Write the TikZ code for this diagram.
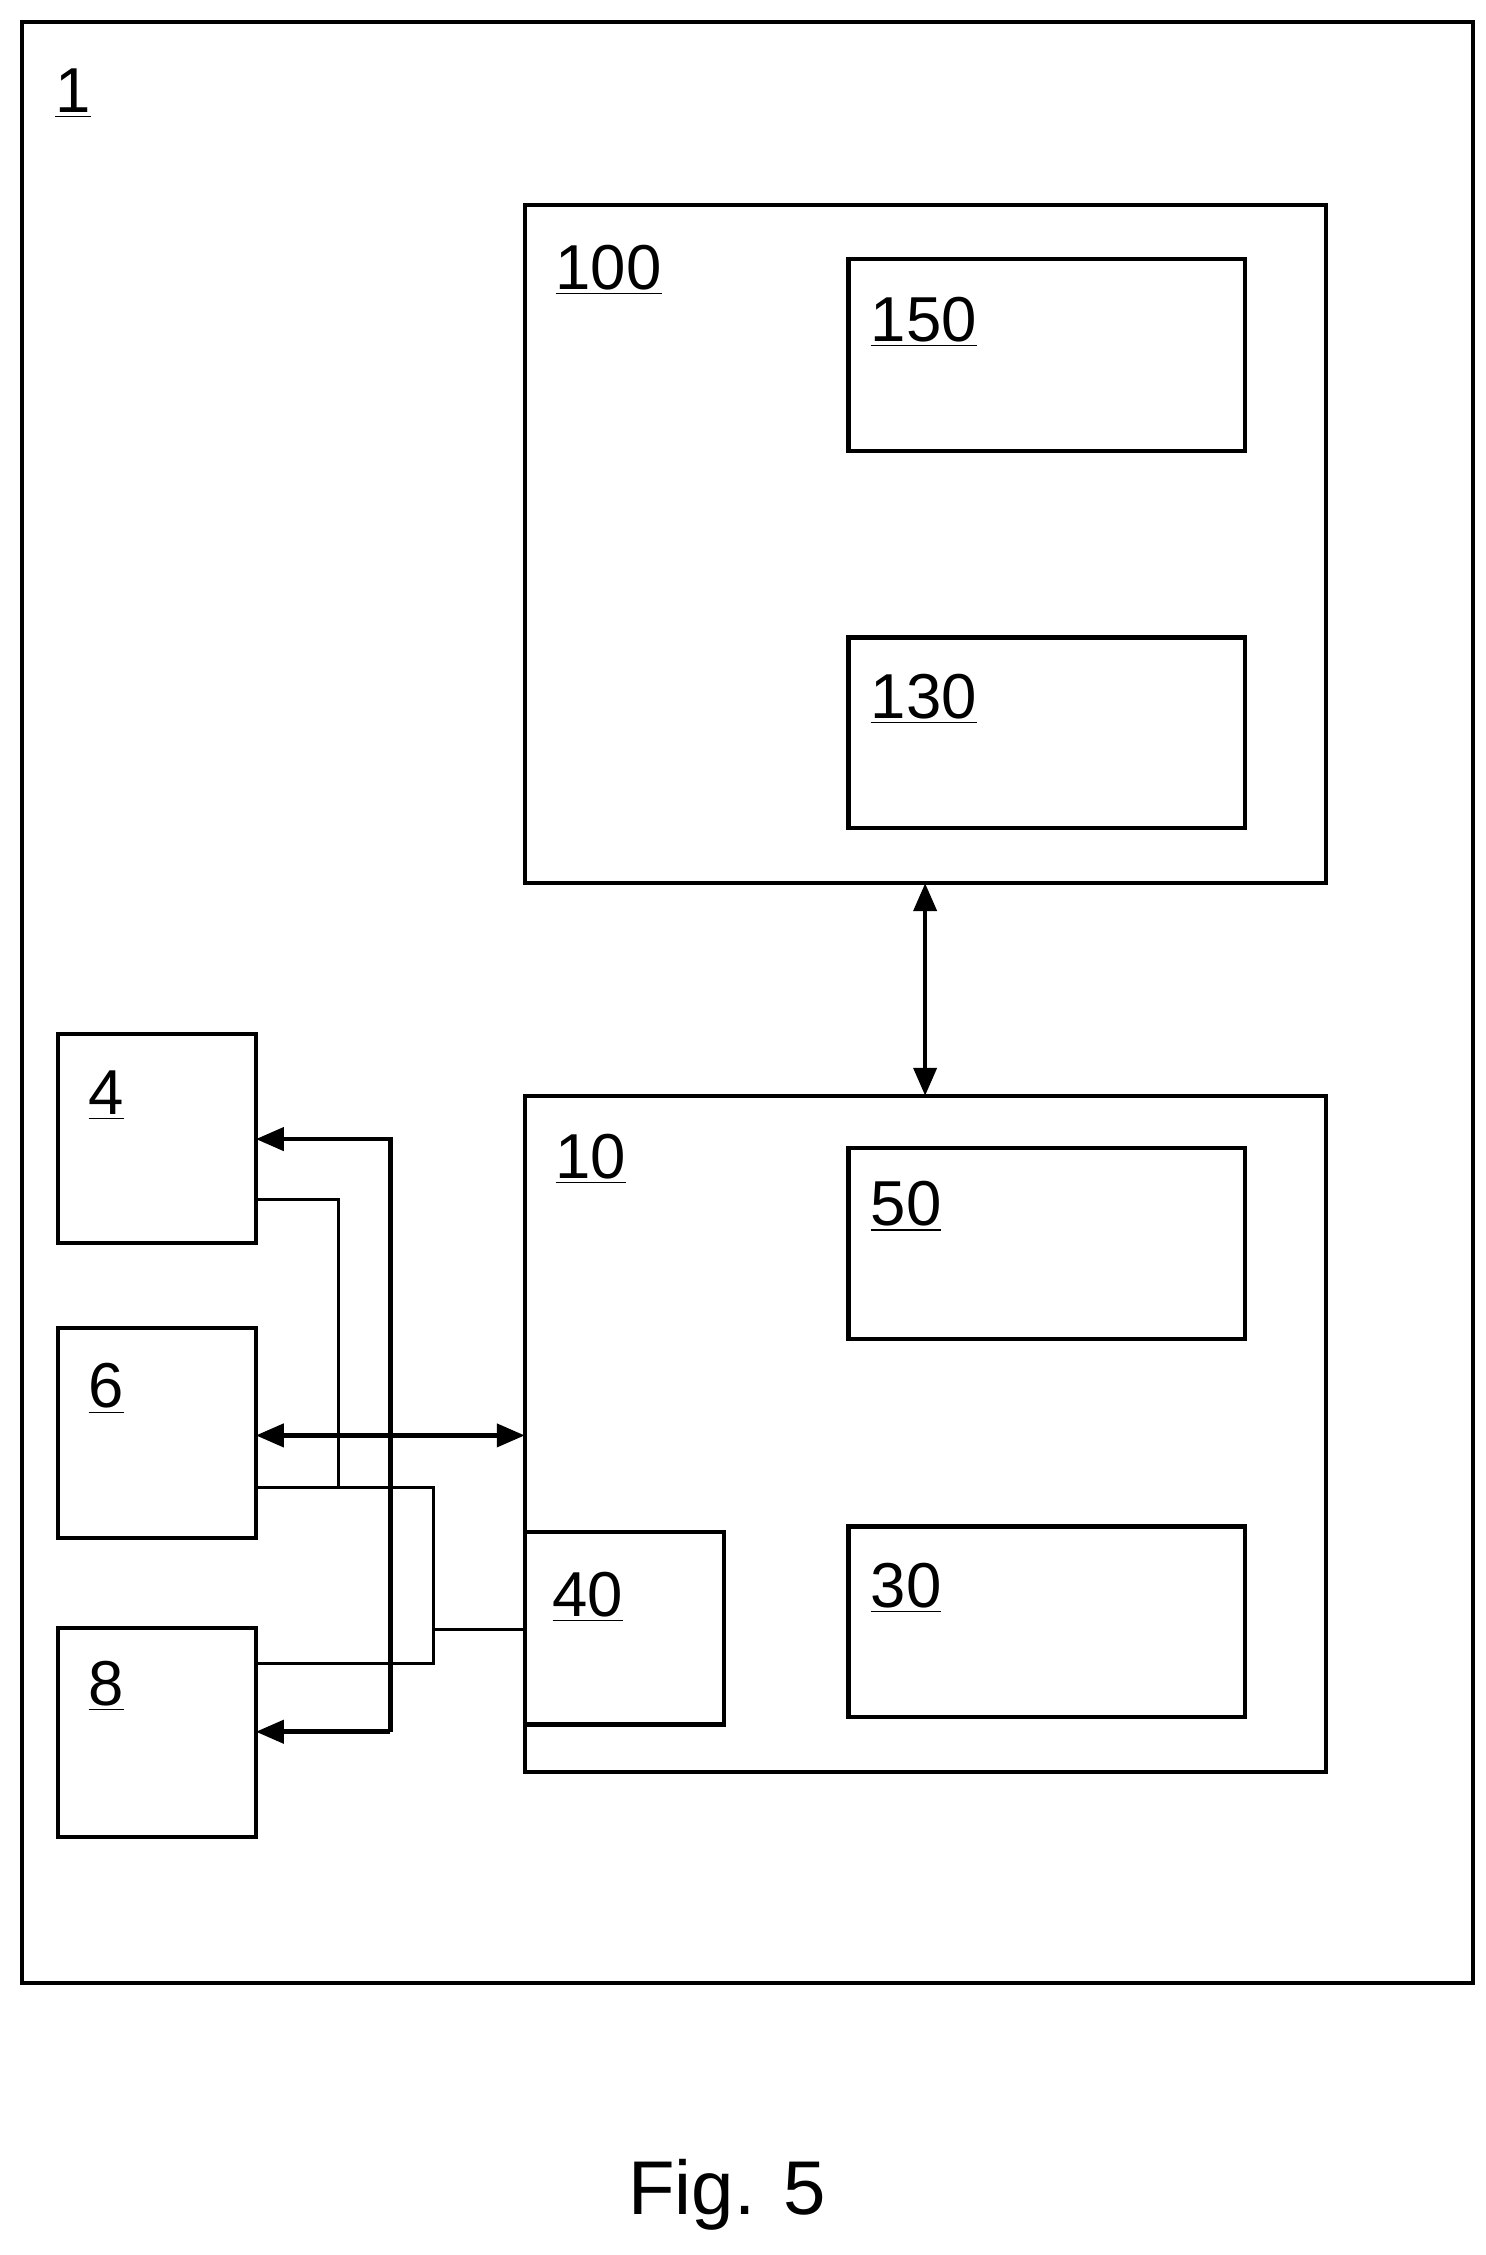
\documentclass[tikz,border=0pt]{standalone}
\usepackage{fontspec}
\setmainfont{Liberation Sans}
\usetikzlibrary{arrows.meta}
\begin{document}
\begin{tikzpicture}[x=0.02cm,y=-0.02cm,
  box/.style={draw,line width=1.6pt},
  lbl/.style={anchor=base west,inner sep=0pt,font=\fontsize{25}{25}\selectfont},
  bus/.style={line width=1.8pt,-{Triangle[length=11pt,width=9pt]}},
  dbl/.style={line width=1.8pt,{Triangle[length=11pt,width=9pt]}-{Triangle[length=11pt,width=9pt]}},
  thin/.style={line width=1.2pt}]
\useasboundingbox (0,0) rectangle (1028,1560);
\draw[box] (15,15) rectangle (1019,1372);
\node[lbl] (l1) at (38,78) {\underline{1}};
\draw[box] (363,142) rectangle (917,611); \node[lbl] (l100) at (384,200) {\underline{100}};
\draw[box] (587,179) rectangle (861,312); \node[lbl] (l150) at (602,236) {\underline{150}};
\draw[box] (587,441) rectangle (861,573); \node[lbl] (l130) at (602,497) {\underline{130}};
\draw[box] (363,758) rectangle (917,1226); \node[lbl] (l10) at (384,815) {\underline{10}};
\draw[box] (587,794) rectangle (861,926); \node[lbl] (l50) at (602,848) {\underline{50}};
\draw[box] (587,1056) rectangle (861,1188); \node[lbl] (l30) at (602,1112) {\underline{30}};
\draw[box] (363,1060) rectangle (501,1193); \node[lbl] (l40) at (382,1118) {\underline{40}};
\draw[box] (40,715) rectangle (177,860); \node[lbl] (l4) at (61,771) {\underline{4}};
\draw[box] (40,919) rectangle (177,1064); \node[lbl] (l6) at (61,974) {\underline{6}};
\draw[box] (40,1126) rectangle (177,1271); \node[lbl] (l8) at (61,1180) {\underline{8}};
\coordinate (t100) at (640,611); \coordinate (t10) at (640,758);
\draw[dbl] (t100) -- (t10);
\coordinate (b4) at (177,788); \coordinate (b8) at (177,1198);
\draw[bus] (270,1198) -- (270,788) -- (b4);
\draw[bus] (270,1198) -- (b8);
\coordinate (s6) at (177,993); \coordinate (s10) at (363,993);
\draw[dbl] (s6) -- (s10);
\draw[thin] (177,830) -- (234,830) -- (234,1029);
\draw[thin] (177,1029) -- (300,1029) -- (300,1151) -- (177,1151);
\draw[thin] (300,1127) -- (363,1127);
\node[font=\fontsize{30}{30}\selectfont] (fig) at (503,1518) {Fig. 5};
\end{tikzpicture}
\end{document}
